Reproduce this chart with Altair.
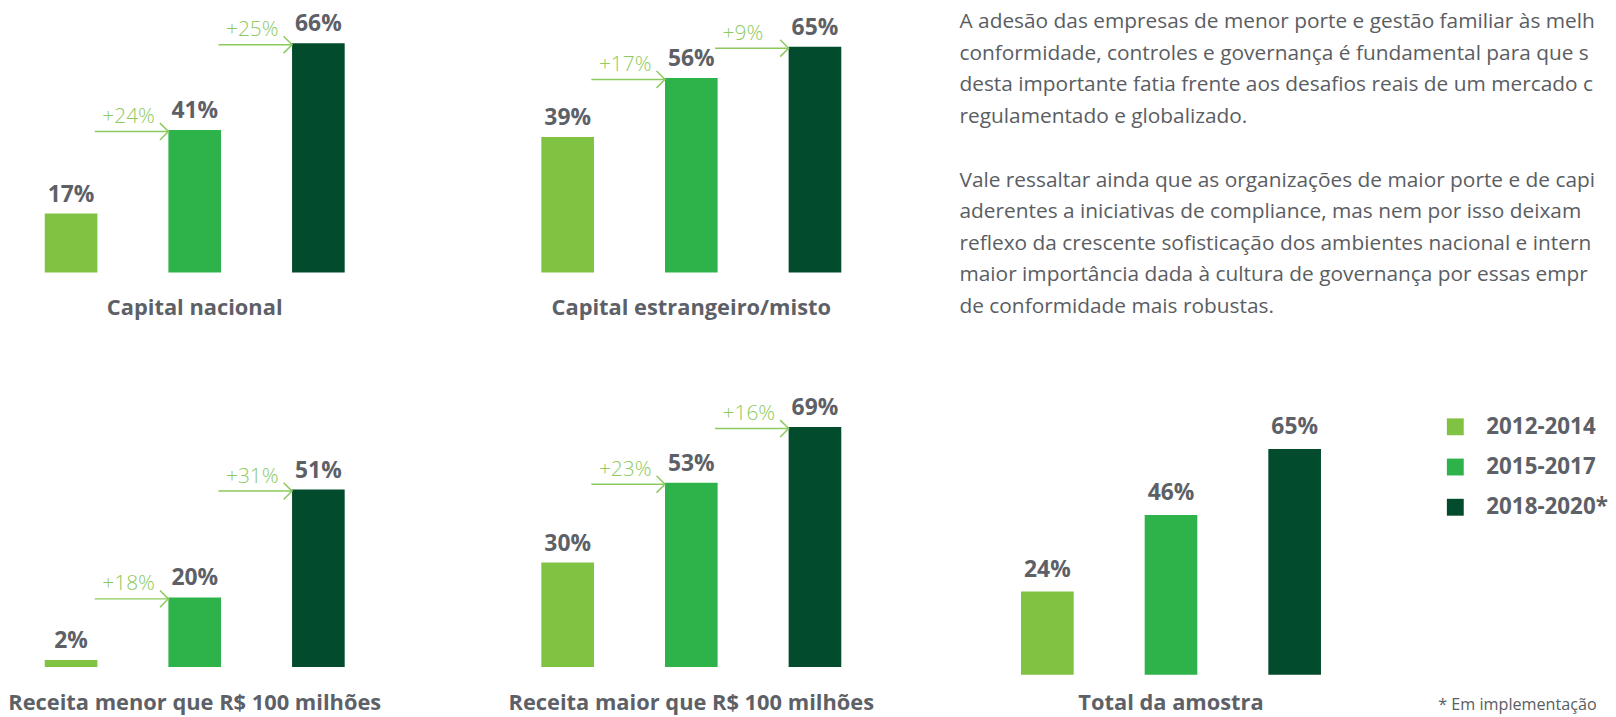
import altair as alt
import pandas as pd

# ---------------- data ----------------
periods = ["2012-2014", "2015-2017", "2018-2020*"]
colors = ["#80c241", "#2db34a", "#034b2d"]

cat_nacional = "Capital nacional"
vals_nacional = [17, 41, 66]
cat_estrangeiro = "Capital estrangeiro/misto"
vals_estrangeiro = [39, 56, 65]
cat_menor = "Receita menor que R$ 100 milhões"
vals_menor = [2, 20, 51]
cat_maior = "Receita maior que R$ 100 milhões"
vals_maior = [30, 53, 69]
cat_total = "Total da amostra"
vals_total = [24, 46, 65]

para1 = [
    "A adesão das empresas de menor porte e gestão familiar às melhores práticas de",
    "conformidade, controles e governança é fundamental para que se garanta a continuidade",
    "desta importante fatia frente aos desafios reais de um mercado cada vez mais",
    "regulamentado e globalizado.",
]
para2 = [
    "Vale ressaltar ainda que as organizações de maior porte e de capital estrangeiro são mais",
    "aderentes a iniciativas de compliance, mas nem por isso deixam de evoluir, como",
    "reflexo da crescente sofisticação dos ambientes nacional e internacional e da",
    "maior importância dada à cultura de governança por essas empresas, com estruturas",
    "de conformidade mais robustas.",
]
footnote = "* Em implementação"

# ---------------- style ----------------
FONT = "Open Sans"
GRAY = "#5d6167"
TEXT_GRAY = "#5a5d62"
ARROW = "#8cca5e"
PX_PER_PCT = 3.5
STEP = 124.5
BAR_W = 53
PAD_IN = 1 - BAR_W / STEP
USED = STEP * (3 - PAD_IN)


def panel(cat, vals, W, H, L=36, label_gap=43, value_dy=-12, arrows=True,
          legend=None, note=None, note_x=0):
    po = (W / STEP - (3 - PAD_IN)) / 2
    a = L / (W - USED)
    xs = alt.Scale(domain=periods, paddingInner=PAD_IN, paddingOuter=po, align=a)
    ys = alt.Scale(domain=[0, H / PX_PER_PCT], nice=False, zero=True)

    df = pd.DataFrame({"period": periods, "value": vals,
                       "label": [f"{v}%" for v in vals]})
    base = alt.Chart(df)
    X = alt.X("period:N", scale=xs, axis=None, sort=periods)
    Y = alt.Y("value:Q", scale=ys, axis=None)

    bars = base.mark_bar().encode(
        x=X, y=Y,
        color=alt.Color("period:N", scale=alt.Scale(domain=periods, range=colors),
                        legend=legend, sort=periods),
    )
    vlab = base.mark_text(font=FONT, fontWeight="bold", fontSize=23, color=GRAY,
                          baseline="alphabetic", dy=value_dy).encode(
        x=X, y=Y, text="label:N")

    cdf = pd.DataFrame({"period": [periods[1]], "cat": [cat]})
    clab = alt.Chart(cdf).mark_text(font=FONT, fontWeight="bold", fontSize=22,
                                    color=GRAY, baseline="alphabetic").encode(
        x=alt.X("period:N", scale=xs, axis=None), y=alt.value(H + label_gap),
        text="cat:N")

    layers = [bars, vlab, clab]

    if arrows:
        adf = pd.DataFrame({
            "prev": periods[:-1], "period": periods[1:], "value": vals[1:],
            "delta": [f"+{b - a_}%" for a_, b in zip(vals[:-1], vals[1:])],
        })
        ab = alt.Chart(adf)
        rule = ab.mark_rule(color=ARROW, strokeWidth=1.5, yOffset=1.5).encode(
            x=alt.X("prev:N", bandPosition=0.95, scale=xs, axis=None),
            x2=alt.X2("period:N", bandPosition=0),
            y=alt.Y("value:Q", scale=ys, axis=None))
        head = ab.mark_point(shape="M-1,-1L0,0L-1,1", size=289, filled=False,
                             color=ARROW, strokeWidth=1.5, opacity=1,
                             yOffset=1.5).encode(
            x=alt.X("period:N", bandPosition=0, scale=xs, axis=None),
            y=alt.Y("value:Q", scale=ys, axis=None))
        dlab = ab.mark_text(font=FONT, fontWeight=300, fontSize=21, color=ARROW,
                            align="left", baseline="alphabetic", dx=5, dy=-7).encode(
            x=alt.X("prev:N", bandPosition=1, scale=xs, axis=None),
            y=alt.Y("value:Q", scale=ys, axis=None),
            text="delta:N")
        layers += [rule, head, dlab]

    if note is not None:
        ndf = pd.DataFrame({"t": [note]})
        ntxt = alt.Chart(ndf).mark_text(font=FONT, fontSize=16.3, color=TEXT_GRAY,
                                        align="left", baseline="alphabetic").encode(
            x=alt.value(note_x), y=alt.value(H + 35), text="t:N")
        layers.append(ntxt)

    return alt.layer(*layers).properties(width=W, height=H)


def paragraph_chart(W, H):
    common = dict(font=FONT, fontWeight=400, fontSize=21, color=TEXT_GRAY,
                  align="left", baseline="alphabetic", lineBreak="\n",
                  lineHeight=31.7, limit=W - 4, ellipsis="\u200b")
    t1 = alt.Chart(pd.DataFrame({"t": ["\n".join(para1)]})).mark_text(
        **common).encode(x=alt.value(4), y=alt.value(18), text="t:N")
    t2 = alt.Chart(pd.DataFrame({"t": ["\n".join(para2)]})).mark_text(
        **common).encode(x=alt.value(4), y=alt.value(177.5), text="t:N")
    return alt.layer(t1, t2).properties(width=W, height=H)


# panel-6 origin sits at chart x 953 (column widths 500 + 453)
legend = alt.Legend(
    orient="none", legendX=492, legendY=36, title=None,
    symbolType="square", symbolSize=289, symbolStrokeWidth=0, symbolOpacity=1,
    labelFont=FONT, labelFontSize=22.5, labelFontWeight="bold", labelColor=GRAY,
    labelOffset=20, rowPadding=17.5, padding=0,
)

p1 = panel(cat_nacional, vals_nacional, 500, 264)
p2 = panel(cat_estrangeiro, vals_estrangeiro, 453, 264)
pt = paragraph_chart(647, 264)
p4 = panel(cat_menor, vals_menor, 500, 289)
p5 = panel(cat_maior, vals_maior, 453, 289)
p6 = panel(cat_total, vals_total, 400, 297, L=66, label_gap=35, value_dy=-15,
           arrows=False, legend=legend, note=footnote, note_x=486)

chart = alt.concat(
    p1, p2, pt, p4, p5, p6, columns=3,
    spacing={"row": 108, "column": 0}, align="none", bounds="flush",
).resolve_legend(color="independent").properties(
    padding=0, background="white").configure_view(stroke=None)

chart.save("out.html", embed_options={"renderer": "svg", "actions": False})
